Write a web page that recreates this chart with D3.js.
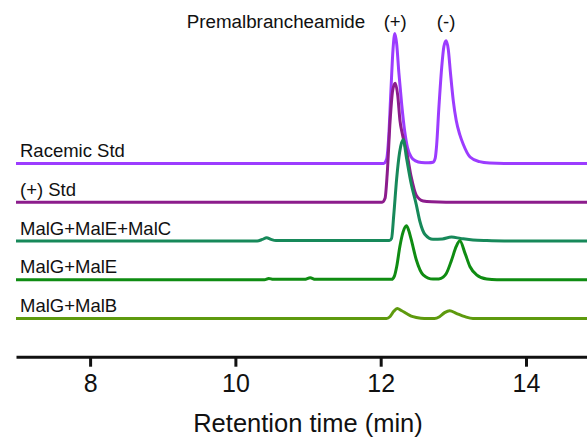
<!DOCTYPE html>
<html>
<head>
<meta charset="utf-8">
<script src="https://cdn.jsdelivr.net/npm/d3@7"></script>
<style>
body { margin: 0; background: #fff; }
text { font-family: Arial, "Liberation Sans", sans-serif; fill: #111; }
</style>
</head>
<body>
<div id="chart"></div>
<script>
// traces, top to bottom
var traceNames = ["Racemic Std", "(+) Std", "MalG+MalE+MalC", "MalG+MalE", "MalG+MalB"];
var traceColors = ["#9c3cff", "#8c1c8c", "#17895a", "#0f8c12", "#5e9a0e"];
var tickValues = [8, 10, 12, 14];
var peakLabels = ["(+)", "(-)"];
var peakTimes = [12.2, 12.9];

// [time (min), signal], signal 100 = tallest peak
var racemic = [[6.98,0],[12.04,0],[12.08,3],[12.11,20],[12.14,55],[12.17,88],[12.195,100],[12.22,92],[12.25,70],[12.29,45],[12.33,25],[12.37,12],[12.42,5],[12.48,2],[12.56,0.8],[12.66,0.6],[12.72,1],[12.75,4],[12.77,14],[12.80,42],[12.84,74],[12.87,90],[12.90,94.5],[12.93,88],[12.96,70],[13.00,48],[13.04,33],[13.09,22],[13.135,15],[13.23,5],[13.36,1.4],[13.5,0.3],[13.7,0],[14.84,0]];
var plusStd = [[6.98,0],[12.02,0],[12.06,3],[12.09,22],[12.13,63],[12.165,86],[12.20,91.5],[12.235,82],[12.265,63],[12.30,52],[12.36,38],[12.42,19.5],[12.49,5.4],[12.585,1],[12.7,0.3],[12.9,0],[14.84,0]];
var malGEC = [[6.98,0],[10.3,0],[10.37,1.2],[10.43,2.5],[10.49,1.2],[10.56,0.3],[12.12,0.3],[12.15,2],[12.18,20],[12.22,48],[12.26,68],[12.31,78],[12.355,64],[12.42,44],[12.49,28],[12.54,15],[12.61,5],[12.72,1.3],[12.85,1.6],[12.975,3],[13.1,2],[13.27,0.8],[13.46,0.3],[13.7,0],[14.84,0]];
var malGE = [[6.98,0],[10.40,0],[10.46,1],[10.52,0.3],[10.95,0.3],[11.03,1.5],[11.1,0.3],[12.15,0.3],[12.19,3],[12.22,10],[12.264,25.6],[12.31,37],[12.355,41.5],[12.385,38],[12.42,31],[12.49,15.4],[12.585,3.8],[12.72,0.5],[12.8,0.6],[12.86,2],[12.905,5],[12.975,15],[13.04,25.6],[13.09,30],[13.16,20.5],[13.23,10],[13.32,3.8],[13.46,0.5],[13.6,0],[14.84,0]];
var malGB = [[6.98,0],[12.08,0],[12.13,1.5],[12.18,5.5],[12.227,7.7],[12.29,6],[12.355,3.8],[12.42,1.8],[12.49,0.8],[12.6,0],[12.74,0],[12.81,1.4],[12.88,4.5],[12.95,6],[13.04,4],[13.16,1.4],[13.27,0],[14.84,0]];
var traces = [racemic, plusStd, malGEC, malGE, malGB];

var width = 587, height = 440;

var svg = d3.select("#chart").append("svg")
	.attr("width", width)
	.attr("height", height);

var x = d3.scaleLinear()
	.domain([6.98, 14.84])
	.range([16, 587]);

// baseline of each trace
var base = d3.scalePoint()
	.domain(traceNames)
	.range([163.5, 318.5]);

// signal -> pixel height
var h = d3.scaleLinear()
	.domain([0, 100])
	.range([0, 130]);

traces.forEach(function(data, i) {
	var name = traceNames[i];
	var line = d3.line()
		.x(function(d) { return x(d[0]); })
		.y(function(d) { return base(name) - h(d[1]); })
		.curve(d3.curveMonotoneX);

	svg.append("path")
		.datum(data)
		.attr("d", line)
		.attr("fill", "none")
		.attr("stroke", traceColors[i])
		.attr("stroke-width", 3)
		.attr("stroke-linejoin", "round");
});

// trace labels
svg.selectAll(".lab")
	.data(traceNames)
	.enter().append("text")
	.attr("class", "lab")
	.attr("x", 20)
	.attr("y", function(d) { return base(d) - 6.5; })
	.style("font-size", "18.5px")
	.text(function(d) { return d; });

// peak labels on top
svg.append("text")
	.attr("x", x(peakTimes[0]) - 30)
	.attr("y", 28)
	.attr("text-anchor", "end")
	.style("font-size", "18.8px")
	.text("Premalbrancheamide");

svg.selectAll(".peak")
	.data(peakLabels)
	.enter().append("text")
	.attr("class", "peak")
	.attr("x", function(d, i) { return x(peakTimes[i]); })
	.attr("y", 28)
	.attr("text-anchor", "middle")
	.style("font-size", "18.5px")
	.text(function(d) { return d; });

// x axis
var axis = svg.append("g")
	.attr("transform", "translate(0,356.7)")
	.call(d3.axisBottom(x).tickValues(tickValues).tickSize(10).tickSizeOuter(0).tickPadding(7.5));

axis.select(".domain").attr("stroke", "#111").attr("stroke-width", 3);
axis.selectAll(".tick line").attr("stroke", "#111").attr("stroke-width", 3);
axis.selectAll(".tick text")
	.style("font-size", "25px")
	.style("font-family", "Arial, 'Liberation Sans', sans-serif")
	.attr("fill", "#111");

svg.append("text")
	.attr("x", 308)
	.attr("y", 431.7)
	.attr("text-anchor", "middle")
	.style("font-size", "25.5px")
	.text("Retention time (min)");
</script>
</body>
</html>
